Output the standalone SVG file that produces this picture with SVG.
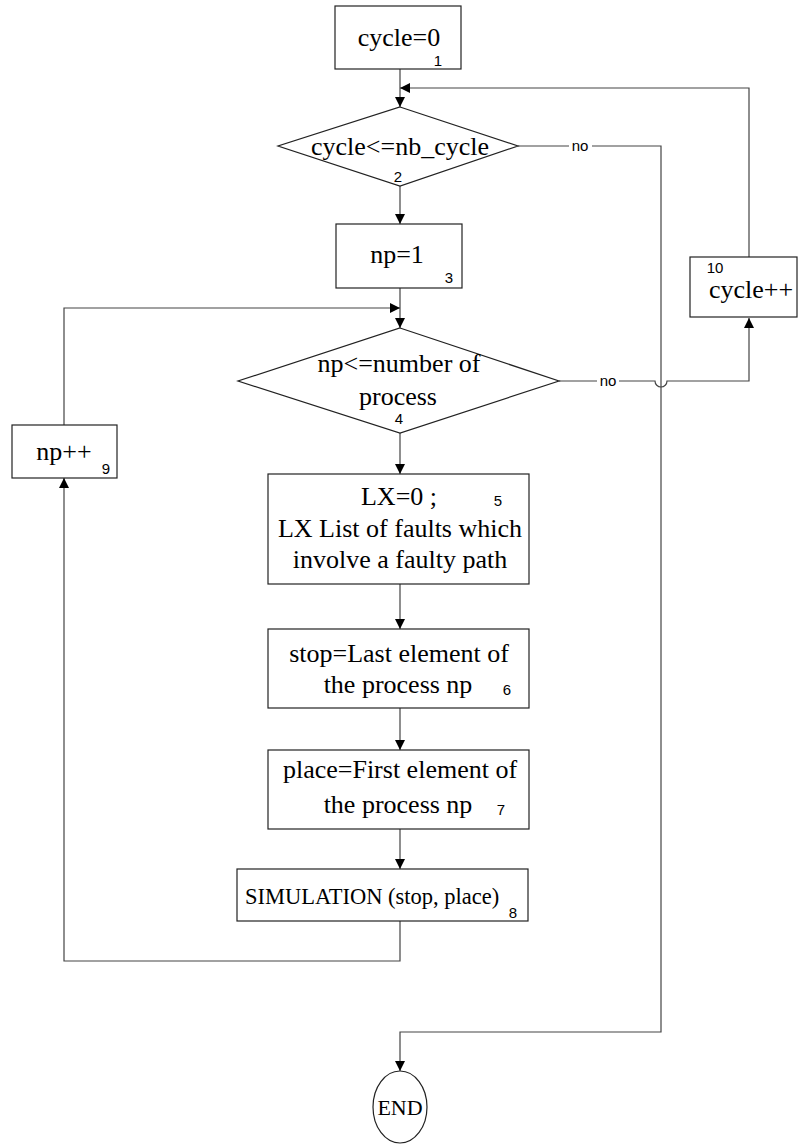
<svg xmlns="http://www.w3.org/2000/svg" width="798" height="1148" viewBox="0 0 798 1148">
  <style>
    .box { fill: #ffffff; stroke: #222222; stroke-width: 1.2; }
    .lbl { font-family: "Liberation Serif", "Times New Roman", serif; font-size: 26px; fill: #000000; }
    .num { font-family: "Liberation Sans", Arial, sans-serif; font-size: 15px; fill: #000000; }
    .edge { fill: none; stroke: #444444; stroke-width: 1.2; }
  </style>
  <defs>
    <marker id="arrow" viewBox="0 0 10 10" refX="10" refY="5" markerWidth="10" markerHeight="10" markerUnits="userSpaceOnUse" orient="auto">
      <path d="M0,0 L10,5 L0,10 Z" fill="#000000"/>
    </marker>
  </defs>
  <rect width="798" height="1148" fill="#ffffff"/>

  <g id="connectors">
    <!-- straight flow down the middle -->
    <path class="edge" d="M400,69 V107" marker-end="url(#arrow)"/>
    <path class="edge" d="M400,186 V224" marker-end="url(#arrow)"/>
    <path class="edge" d="M400,288 V328" marker-end="url(#arrow)"/>
    <path class="edge" d="M400,433 V474" marker-end="url(#arrow)"/>
    <path class="edge" d="M400,584 V629" marker-end="url(#arrow)"/>
    <path class="edge" d="M400,708 V750" marker-end="url(#arrow)"/>
    <path class="edge" d="M400,829 V869" marker-end="url(#arrow)"/>
    <!-- inner loop: simulation back to np++ and up to the np test -->
    <path class="edge" d="M400,921 V961 H64 V478" marker-end="url(#arrow)"/>
    <path class="edge" d="M64,425 V308 H400" marker-end="url(#arrow)"/>
    <!-- outer loop: cycle++ back to the cycle test -->
    <path class="edge" d="M749,257 V88 H400" marker-end="url(#arrow)"/>
    <!-- exit of the cycle test towards END -->
    <path class="edge" d="M518,146 H569 M592,146 H661 V1032 H400 V1071" marker-end="url(#arrow)"/>
    <text class="num" x="580" y="151" text-anchor="middle">no</text>
    <!-- exit of the np test towards cycle++, hopping over the END line -->
    <path class="edge" d="M559,381 H597 M619,381 H655 A6,6 0 0 0 667,381 H749 V318" marker-end="url(#arrow)"/>
    <text class="num" x="608" y="386" text-anchor="middle">no</text>
  </g>

  <g id="n1">
    <rect class="box" x="335" y="6" width="126" height="63"/>
    <text class="lbl" x="399" y="46" text-anchor="middle">cycle=0</text>
    <text class="num" x="438" y="66" text-anchor="middle">1</text>
  </g>

  <g id="n2">
    <polygon class="box" points="400,107 518,146 400,186 278,146"/>
    <text class="lbl" x="400" y="155" text-anchor="middle">cycle&lt;=nb_cycle</text>
    <text class="num" x="398" y="182" text-anchor="middle">2</text>
  </g>

  <g id="n3">
    <rect class="box" x="336" y="224" width="126" height="64"/>
    <text class="lbl" x="397" y="263" text-anchor="middle">np=1</text>
    <text class="num" x="449" y="283" text-anchor="middle">3</text>
  </g>

  <g id="n4">
    <polygon class="box" points="400,328 559,381 400,433 238,381"/>
    <text class="lbl" x="399" y="372" text-anchor="middle">np&lt;=number of</text>
    <text class="lbl" x="398" y="405" text-anchor="middle">process</text>
    <text class="num" x="399" y="424" text-anchor="middle">4</text>
  </g>

  <g id="n5">
    <rect class="box" x="268" y="474" width="261" height="110"/>
    <text class="lbl" x="399" y="505" text-anchor="middle">LX=0 ;</text>
    <text class="num" x="498" y="506" text-anchor="middle">5</text>
    <text class="lbl" x="400" y="537" text-anchor="middle">LX List of faults which</text>
    <text class="lbl" x="400" y="568" text-anchor="middle">involve a faulty path</text>
  </g>

  <g id="n6">
    <rect class="box" x="268" y="629" width="261" height="79"/>
    <text class="lbl" x="399" y="662" text-anchor="middle">stop=Last element of</text>
    <text class="lbl" x="398" y="693" text-anchor="middle">the process np</text>
    <text class="num" x="507" y="695" text-anchor="middle">6</text>
  </g>

  <g id="n7">
    <rect class="box" x="268" y="750" width="261" height="79"/>
    <text class="lbl" x="400" y="778" text-anchor="middle">place=First element of</text>
    <text class="lbl" x="398" y="813" text-anchor="middle">the process np</text>
    <text class="num" x="501" y="815" text-anchor="middle">7</text>
  </g>

  <g id="n8">
    <rect class="box" x="237" y="869" width="291" height="52"/>
    <text class="lbl" x="245" y="904" style="font-size:22.5px">SIMULATION (stop, place)</text>
    <text class="num" x="513" y="918" text-anchor="middle">8</text>
  </g>

  <g id="n9">
    <rect class="box" x="12" y="425" width="105" height="53"/>
    <text class="lbl" x="64" y="460" text-anchor="middle">np++</text>
    <text class="num" x="106" y="474" text-anchor="middle">9</text>
  </g>

  <g id="n10">
    <rect class="box" x="690" y="257" width="107" height="60"/>
    <text class="num" x="715" y="273" text-anchor="middle">10</text>
    <text class="lbl" x="751" y="298" text-anchor="middle">cycle++</text>
  </g>

  <g id="end">
    <ellipse class="box" cx="400" cy="1107" rx="27" ry="36"/>
    <text class="lbl" x="400" y="1115" text-anchor="middle" style="font-size:22px">END</text>
  </g>
</svg>
